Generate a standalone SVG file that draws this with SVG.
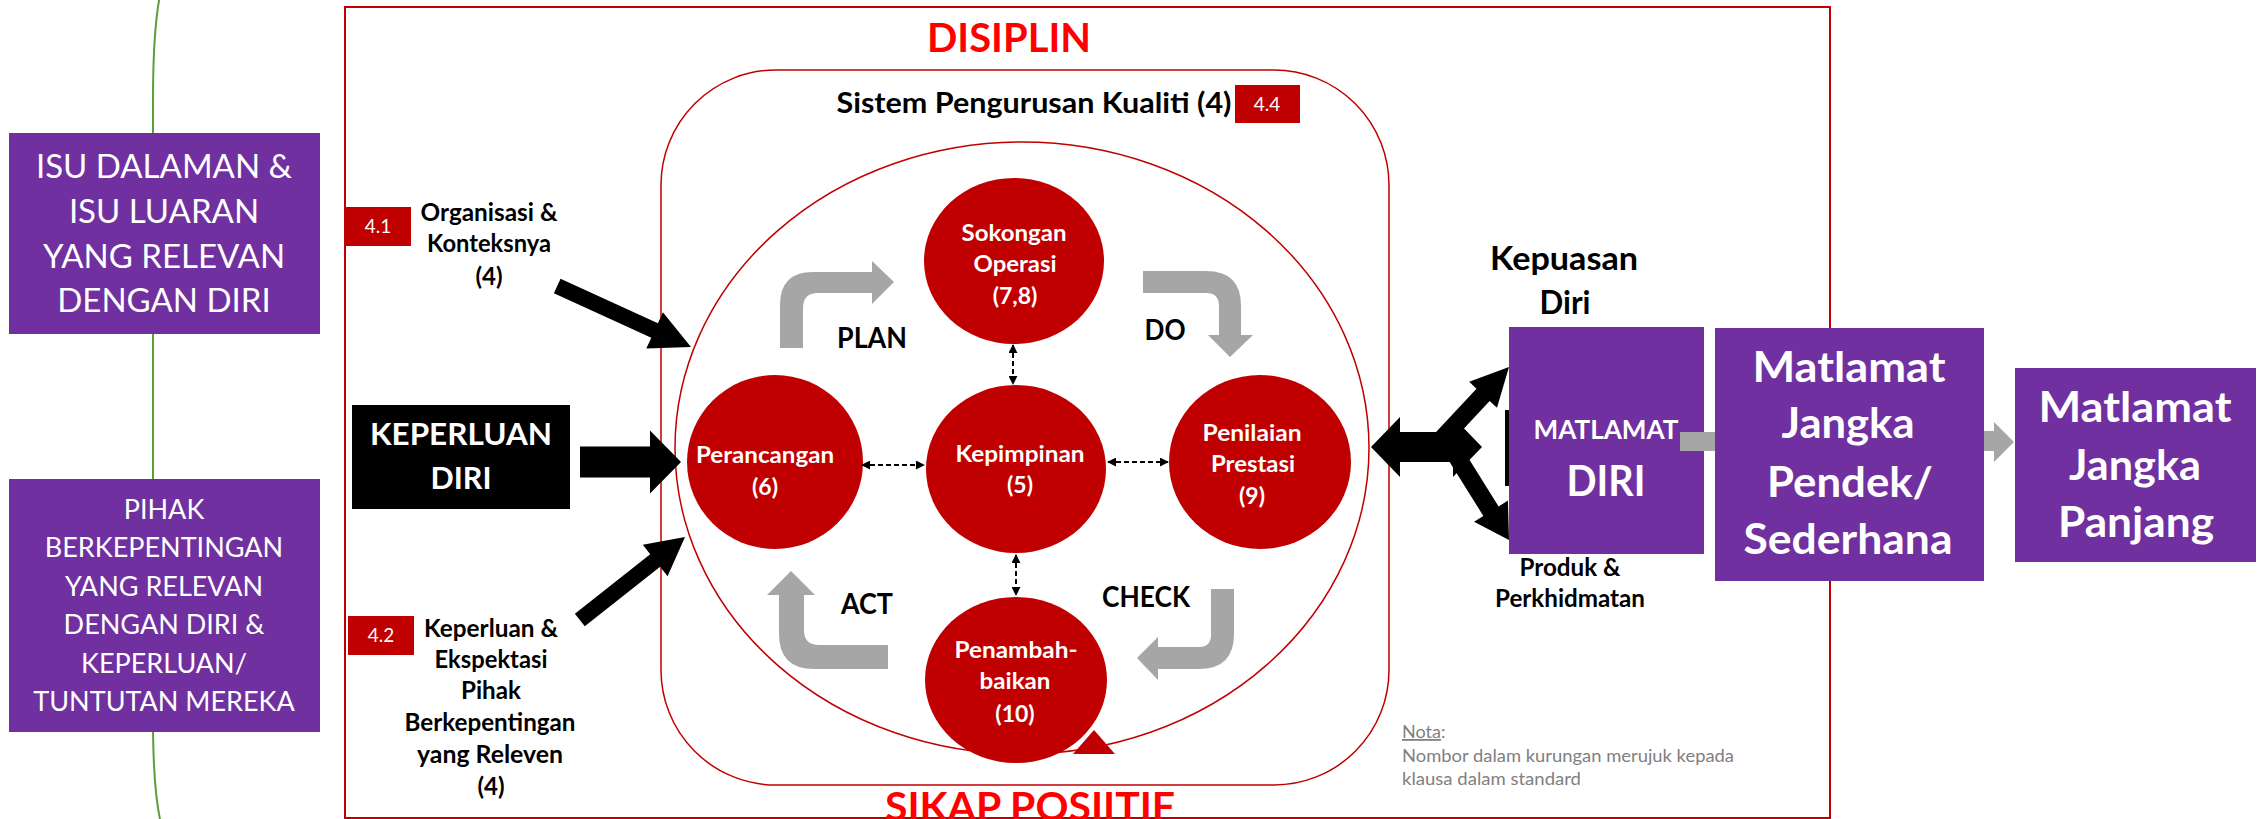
<svg xmlns="http://www.w3.org/2000/svg" width="2263" height="819" viewBox="0 0 2263 819">
<style>
text{font-family:Lato,"Open Sans",sans-serif}
.w{fill:#fff}
.b{font-weight:bold}
.c{text-anchor:middle}
.purple{fill:#7030A0}
.dred{fill:#C00000}
.circ{fill:#C00000}
.gray{fill:#A6A6A6}
.blk{fill:#000}
.dash{stroke:#000;stroke-width:2;stroke-dasharray:5 3;fill:none;marker-start:url(#ah);marker-end:url(#ah)}
.lbl{font-size:24px;font-weight:bold;text-anchor:middle}
.cir{font-size:23px;font-weight:bold;text-anchor:middle;fill:#fff}
.pd{font-size:28px;font-weight:bold;text-anchor:middle}
.big{font-size:42px;font-weight:bold;text-anchor:middle;fill:#fff}
</style>
<defs>
<marker id="ah" viewBox="0 0 10 10" refX="9" refY="5" markerWidth="9" markerHeight="9" markerUnits="userSpaceOnUse" orient="auto-start-reverse">
<path d="M0,0 L10,5 L0,10 Z" fill="#000"/>
</marker>
</defs>
<rect width="2263" height="819" fill="#fff"/>
<path id="bracket" d="M160,-5 Q153,30 153,100 L153,720 Q153,790 161,824" fill="none" stroke="#5E9E3A" stroke-width="2"/>
<rect id="frame" x="345" y="7" width="1485" height="811" fill="none" stroke="#C00000" stroke-width="2"/>
<g id="title-disiplin"><text class="b c" x="1009" y="52" font-size="41" fill="#FF0000" textLength="164" lengthAdjust="spacingAndGlyphs">DISIPLIN</text></g>
<g id="title-sikap"><text class="b c" x="1030" y="821" font-size="41" fill="#FF0000" textLength="290" lengthAdjust="spacingAndGlyphs">SIKAP POSIITIF</text></g>

<g id="qms">
<rect x="661" y="70" width="728" height="715" rx="115" fill="none" stroke="#C00000" stroke-width="1.5"/>
<text class="b c" x="1034" y="113" font-size="29" textLength="395" lengthAdjust="spacingAndGlyphs">Sistem Pengurusan Kualiti (4)</text>
<rect class="dred" x="1235" y="85" width="65" height="38"/>
<text class="w c" x="1267" y="111" font-size="19">4.4</text>
<ellipse cx="1022" cy="448" rx="347" ry="306" fill="none" stroke="#C00000" stroke-width="1.5"/>
<polygon class="dred" points="1073,754 1115,754 1094,730"/>
</g>

<g id="isu">
<rect class="purple" x="9" y="133" width="311" height="201"/>
<text class="w c" font-size="33"><tspan x="164" y="178">ISU DALAMAN &amp;</tspan><tspan x="164" y="223">ISU LUARAN</tspan><tspan x="164" y="268">YANG RELEVAN</tspan><tspan x="164" y="312">DENGAN DIRI</tspan></text>
</g>
<g id="pihak">
<rect class="purple" x="9" y="479" width="311" height="253"/>
<text class="w c" font-size="27"><tspan x="164" y="519">PIHAK</tspan><tspan x="164" y="557">BERKEPENTINGAN</tspan><tspan x="164" y="596">YANG RELEVAN</tspan><tspan x="164" y="634">DENGAN DIRI &amp;</tspan><tspan x="164" y="673">KEPERLUAN/</tspan><tspan x="164" y="711">TUNTUTAN MEREKA</tspan></text>
</g>
<g id="keperluan-diri">
<rect class="blk" x="352" y="405" width="218" height="104"/>
<text class="w b c" x="461" y="445" font-size="31" textLength="182" lengthAdjust="spacingAndGlyphs">KEPERLUAN</text>
<text class="w b c" x="461" y="489" font-size="31" textLength="61" lengthAdjust="spacingAndGlyphs">DIRI</text>
</g>
<g id="organisasi">
<rect class="dred" x="346" y="207" width="65" height="39"/>
<text class="w c" x="378" y="233" font-size="19">4.1</text>
<text class="lbl" x="489" y="221" textLength="137" lengthAdjust="spacingAndGlyphs">Organisasi &amp;</text>
<text class="lbl" x="489" y="252" textLength="124" lengthAdjust="spacingAndGlyphs">Konteksnya</text>
<text class="lbl" x="489" y="285">(4)</text>
</g>
<g id="ekspektasi">
<rect class="dred" x="348" y="616" width="66" height="39"/>
<text class="w c" x="381" y="642" font-size="19">4.2</text>
<text class="lbl" x="491" y="637" textLength="134" lengthAdjust="spacingAndGlyphs">Keperluan &amp;</text>
<text class="lbl" x="491" y="668" textLength="113" lengthAdjust="spacingAndGlyphs">Ekspektasi</text>
<text class="lbl" x="491" y="699" textLength="60" lengthAdjust="spacingAndGlyphs">Pihak</text>
<text class="lbl" x="490" y="731" textLength="171" lengthAdjust="spacingAndGlyphs">Berkepentingan</text>
<text class="lbl" x="490" y="763" textLength="146" lengthAdjust="spacingAndGlyphs">yang Releven</text>
<text class="lbl" x="491" y="795">(4)</text>
</g>

<g id="sokongan">
<ellipse class="circ" cx="1014" cy="261" rx="90" ry="83"/>
<text class="cir" x="1014" y="241" textLength="105" lengthAdjust="spacingAndGlyphs">Sokongan</text>
<text class="cir" x="1015" y="272" textLength="83" lengthAdjust="spacingAndGlyphs">Operasi</text>
<text class="cir" x="1015" y="304">(7,8)</text>
</g>
<g id="perancangan">
<ellipse class="circ" cx="775" cy="462" rx="88" ry="87"/>
<text class="cir" x="765" y="463" textLength="138" lengthAdjust="spacingAndGlyphs">Perancangan</text>
<text class="cir" x="765" y="495">(6)</text>
</g>
<g id="kepimpinan">
<ellipse class="circ" cx="1016" cy="469" rx="90" ry="84"/>
<text class="cir" x="1020" y="462" textLength="129" lengthAdjust="spacingAndGlyphs">Kepimpinan</text>
<text class="cir" x="1020" y="493">(5)</text>
</g>
<g id="penilaian">
<ellipse class="circ" cx="1260" cy="462" rx="91" ry="87"/>
<text class="cir" x="1252" y="441" textLength="99" lengthAdjust="spacingAndGlyphs">Penilaian</text>
<text class="cir" x="1253" y="472" textLength="84" lengthAdjust="spacingAndGlyphs">Prestasi</text>
<text class="cir" x="1252" y="504">(9)</text>
</g>
<g id="penambahbaikan">
<ellipse class="circ" cx="1016" cy="680" rx="91" ry="83"/>
<text class="cir" x="1016" y="658" textLength="123" lengthAdjust="spacingAndGlyphs">Penambah-</text>
<text class="cir" x="1015" y="689" textLength="71" lengthAdjust="spacingAndGlyphs">baikan</text>
<text class="cir" x="1015" y="722">(10)</text>
</g>

<g id="pdca-labels">
<text class="pd" x="872" y="348" textLength="70" lengthAdjust="spacingAndGlyphs">PLAN</text>
<text class="pd" x="1165" y="340" textLength="41" lengthAdjust="spacingAndGlyphs">DO</text>
<text class="pd" x="867" y="614" textLength="52" lengthAdjust="spacingAndGlyphs">ACT</text>
<text class="pd" x="1146" y="607" textLength="88" lengthAdjust="spacingAndGlyphs">CHECK</text>
</g>

<g id="kepuasan">
<text class="b c" x="1564" y="270" font-size="33" textLength="148" lengthAdjust="spacingAndGlyphs">Kepuasan</text>
<text class="b c" x="1565" y="314" font-size="33" textLength="51" lengthAdjust="spacingAndGlyphs">Diri</text>
</g>
<g id="produk">
<text class="lbl" x="1570" y="576" textLength="101" lengthAdjust="spacingAndGlyphs">Produk &amp;</text>
<text class="lbl" x="1570" y="607" textLength="150" lengthAdjust="spacingAndGlyphs">Perkhidmatan</text>
</g>

<g id="connectors">
<path class="gray" d="M780,348 L780,305 Q780,272 813,272 L872,272 L872,261 L894,282 L872,304 L872,293 L818,293 Q803,293 803,308 L803,348 Z"/>
<path class="gray" d="M1143,271 L1206,271 Q1241,271 1241,306 L1241,335 L1253,335 L1230,357 L1208,335 L1219,335 L1219,306 Q1219,293 1206,293 L1143,293 Z"/>
<path class="gray" d="M1211,589 L1234,589 L1234,634 Q1234,669 1199,669 L1158,669 L1158,680 L1137,658 L1158,637 L1158,647 L1199,647 Q1211,647 1211,635 Z"/>
<path class="gray" d="M888,645 L888,669 L814,669 Q779,669 779,634 L779,595 L767,595 L791,571 L815,595 L804,595 L804,630 Q804,645 819,645 Z"/>
<line class="dash" x1="1013" y1="345" x2="1013" y2="384"/>
<line class="dash" x1="862" y1="465" x2="924" y2="465"/>
<line class="dash" x1="1108" y1="462" x2="1168" y2="462"/>
<line class="dash" x1="1016" y1="555" x2="1016" y2="595"/>
<path class="blk" transform="translate(691,347) rotate(24.5)" d="M-147,-8 L-40,-8 L-40,-20 L0,0 L-40,20 L-40,8 L-147,8 Z"/>
<path class="blk" transform="translate(685,537) rotate(-38.3)" d="M-134,-8 L-38,-8 L-38,-20 L0,0 L-38,20 L-38,8 L-134,8 Z"/>
<path class="blk" transform="translate(681,462)" d="M-101,-15.5 L-31,-15.5 L-31,-31.5 L0,0 L-31,31.5 L-31,15.5 L-101,15.5 Z"/>
<path class="blk" d="M1371,447 L1400,417 L1400,432 L1453,432 L1453,417 L1482,447 L1453,477 L1453,462 L1400,462 L1400,477 Z"/>
<path class="blk" transform="translate(1509,367) rotate(-47)" d="M-100,-9 L-38,-9 L-38,-19 L0,0 L-38,19 L-38,9 L-100,9 Z"/>
<path class="blk" transform="translate(1509,540) rotate(58)" d="M-105,-9 L-34,-9 L-34,-20 L0,0 L-34,20 L-34,9 L-105,9 Z"/>
<rect class="blk" x="1505" y="410" width="6" height="76"/>
<path class="gray" d="M1975,431 L1994,431 L1994,422 L2014,442 L1994,462 L1994,451 L1975,451 Z"/>
</g>

<g id="matlamat-diri">
<rect class="purple" x="1509" y="327" width="195" height="227"/>
<text class="w b c" x="1606" y="439" font-size="26" textLength="145" lengthAdjust="spacingAndGlyphs">MATLAMAT</text>
<text class="w b c" x="1606" y="496" font-size="42" textLength="79" lengthAdjust="spacingAndGlyphs">DIRI</text>
<rect class="gray" x="1680" y="432" width="35" height="19"/>
</g>
<g id="jangka-pendek">
<rect class="purple" x="1715" y="328" width="269" height="253"/>
<text class="big" x="1849" y="382" textLength="193" lengthAdjust="spacingAndGlyphs">Matlamat</text>
<text class="big" x="1848" y="438" textLength="133" lengthAdjust="spacingAndGlyphs">Jangka</text>
<text class="big" x="1850" y="497" textLength="166" lengthAdjust="spacingAndGlyphs">Pendek/</text>
<text class="big" x="1848" y="554" textLength="209" lengthAdjust="spacingAndGlyphs">Sederhana</text>
</g>
<g id="jangka-panjang">
<rect class="purple" x="2015" y="368" width="241" height="194"/>
<text class="big" x="2135" y="422" textLength="193" lengthAdjust="spacingAndGlyphs">Matlamat</text>
<text class="big" x="2135" y="480" textLength="132" lengthAdjust="spacingAndGlyphs">Jangka</text>
<text class="big" x="2136" y="537" textLength="156" lengthAdjust="spacingAndGlyphs">Panjang</text>
</g>

<g id="nota">
<text x="1402" y="738" font-size="18" fill="#7F7F7F"><tspan text-decoration="underline">Nota</tspan>:</text>
<text x="1402" y="762" font-size="18" fill="#7F7F7F" textLength="332" lengthAdjust="spacingAndGlyphs">Nombor dalam kurungan merujuk kepada</text>
<text x="1402" y="785" font-size="18" fill="#7F7F7F" textLength="179" lengthAdjust="spacingAndGlyphs">klausa dalam standard</text>
</g>
</svg>
